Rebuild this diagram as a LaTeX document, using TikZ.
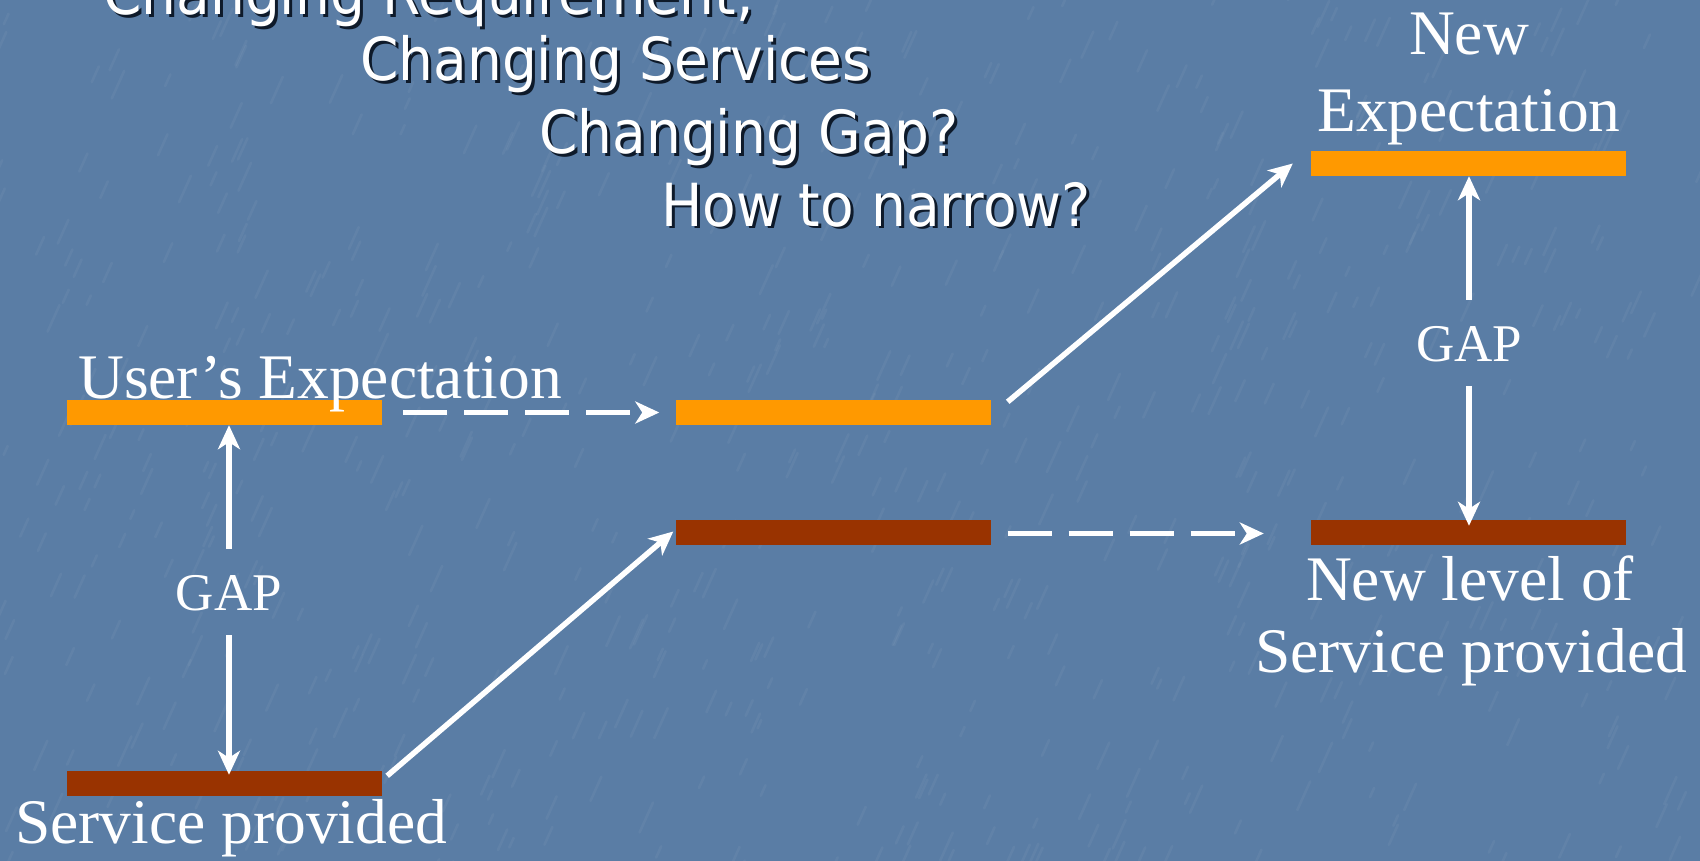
\documentclass[tikz,border=0pt]{standalone}
\usepackage{fontspec}
\setmainfont{Liberation Serif}
\newfontfamily\headfont{DejaVu Sans}
\usetikzlibrary{arrows.meta,calc}

\definecolor{slide}{HTML}{5A7DA5}
\definecolor{expcol}{HTML}{FF9900}
\definecolor{svccol}{HTML}{993300}
\definecolor{shadowcol}{HTML}{0E1A2A}

\begin{document}
\begin{tikzpicture}[x=1pt,y=-1pt,
  levelbar/.style={minimum width=315pt, minimum height=25pt, inner sep=0pt, draw=none},
  expbar/.style={levelbar, fill=expcol},
  svcbar/.style={levelbar, fill=svccol},
  caption/.style={font=\fontsize{63.5}{70}\selectfont, text=white, inner sep=0pt},
  gaptext/.style={font=\fontsize{53}{60}\selectfont, text=white, inner xsep=0pt,
    inner ysep=25pt, text height=36pt, text depth=0pt},
  question/.style={font=\headfont\fontsize{55}{60}\selectfont, text=white,
    inner sep=0pt, anchor=base west},
  questionshadow/.style={question, text=shadowcol},
  arr/.style={draw=white, line width=5.5pt,
    -{Stealth[length=24pt, width=22pt, inset=7pt]}},
  dasharr/.style={arr, dash pattern=on 44pt off 17pt},
]
\useasboundingbox (0,0) rectangle (1700,861);
\clip (0,0) rectangle (1700,861);

% slide background with a faint diagonal grain
\fill[slide] (0,0) rectangle (1700,861);
\pgfmathsetseed{7}
\foreach \k in {1,...,700}{
  \pgfmathsetmacro{\px}{rnd*1760-30}
  \pgfmathsetmacro{\py}{rnd*900-20}
  \pgfmathsetmacro{\len}{8+rnd*22}
  \draw[white, opacity=0.045, line width=2.6pt, line cap=round]
    (\px,\py) -- ++(0.45*\len,-\len);
}

% heading lines (white with a dark drop shadow), slightly tall letters
\foreach \nm/\x/\y/\t in {q1/103/15/{Changing Requirement,},
                          q2/360/81/{Changing Services},
                          q3/539/154/{Changing Gap?},
                          q4/661/226/{How to narrow?}}{
  \node[questionshadow] (\nm s) at (\x+3,\y+3) {\scalebox{1}[1.08]{\t}};
  \node[question] (\nm) at (\x,\y) {\scalebox{1}[1.08]{\t}};
}

% level bars
\node[expbar] (ueBar)  at (224.5,412.5) {};
\node[svcbar] (spBar)  at (224.5,783.5) {};
\node[expbar] (midExp) at (833,412.5) {};
\node[svcbar] (midSvc) at (833,532.5) {};
\node[expbar] (newExp) at (1468.5,163.5) {};
\node[svcbar] (newSvc) at (1468.5,532.5) {};

% captions
\node[caption, anchor=base west] (ueTxt) at (78,398) {User’s Expectation};
\node[caption, anchor=base west] (spTxt) at (15,843) {Service provided};
\node[caption, anchor=base] (newTxt1) at (1469,55) {New};
\node[caption, anchor=base] (newTxt2) at (1469,132) {Expectation};
\node[caption, anchor=base] (nsTxt1) at (1470,600) {New level of};
\node[caption, anchor=base] (nsTxt2) at (1471,672) {Service provided};

% gap labels
\node[gaptext] (gapL) at (229,592) {GAP};
\node[gaptext] (gapR) at (1469,343) {GAP};

% gap arrows
\draw[arr] (gapL.north) -- (gapL.north |- ueBar.south);
\draw[arr] (gapL.south) -- ($(gapL.south |- spBar.north)+(0,4)$);
\draw[arr] (gapR.north) -- (gapR.north |- newExp.south);
\draw[arr] (gapR.south) -- ($(gapR.south |- newSvc.north)+(0,6)$);

% shifts of expectation and service level
\draw[dasharr] ($(ueBar.east)+(21,0)$) -- ($(midExp.west)+(-16,0)$);
\draw[arr] ($(spBar.north east)+(5,5)$) -- ($(midSvc.west)+(-2,-1)$);
\draw[arr] ($(midExp.north east)+(17,2)$) -- ($(newExp.west)+(-18,0)$);
\draw[dasharr] ($(midSvc.east)+(17,1)$) -- ($(newSvc.west)+(-47,1)$);
\end{tikzpicture}
\end{document}
